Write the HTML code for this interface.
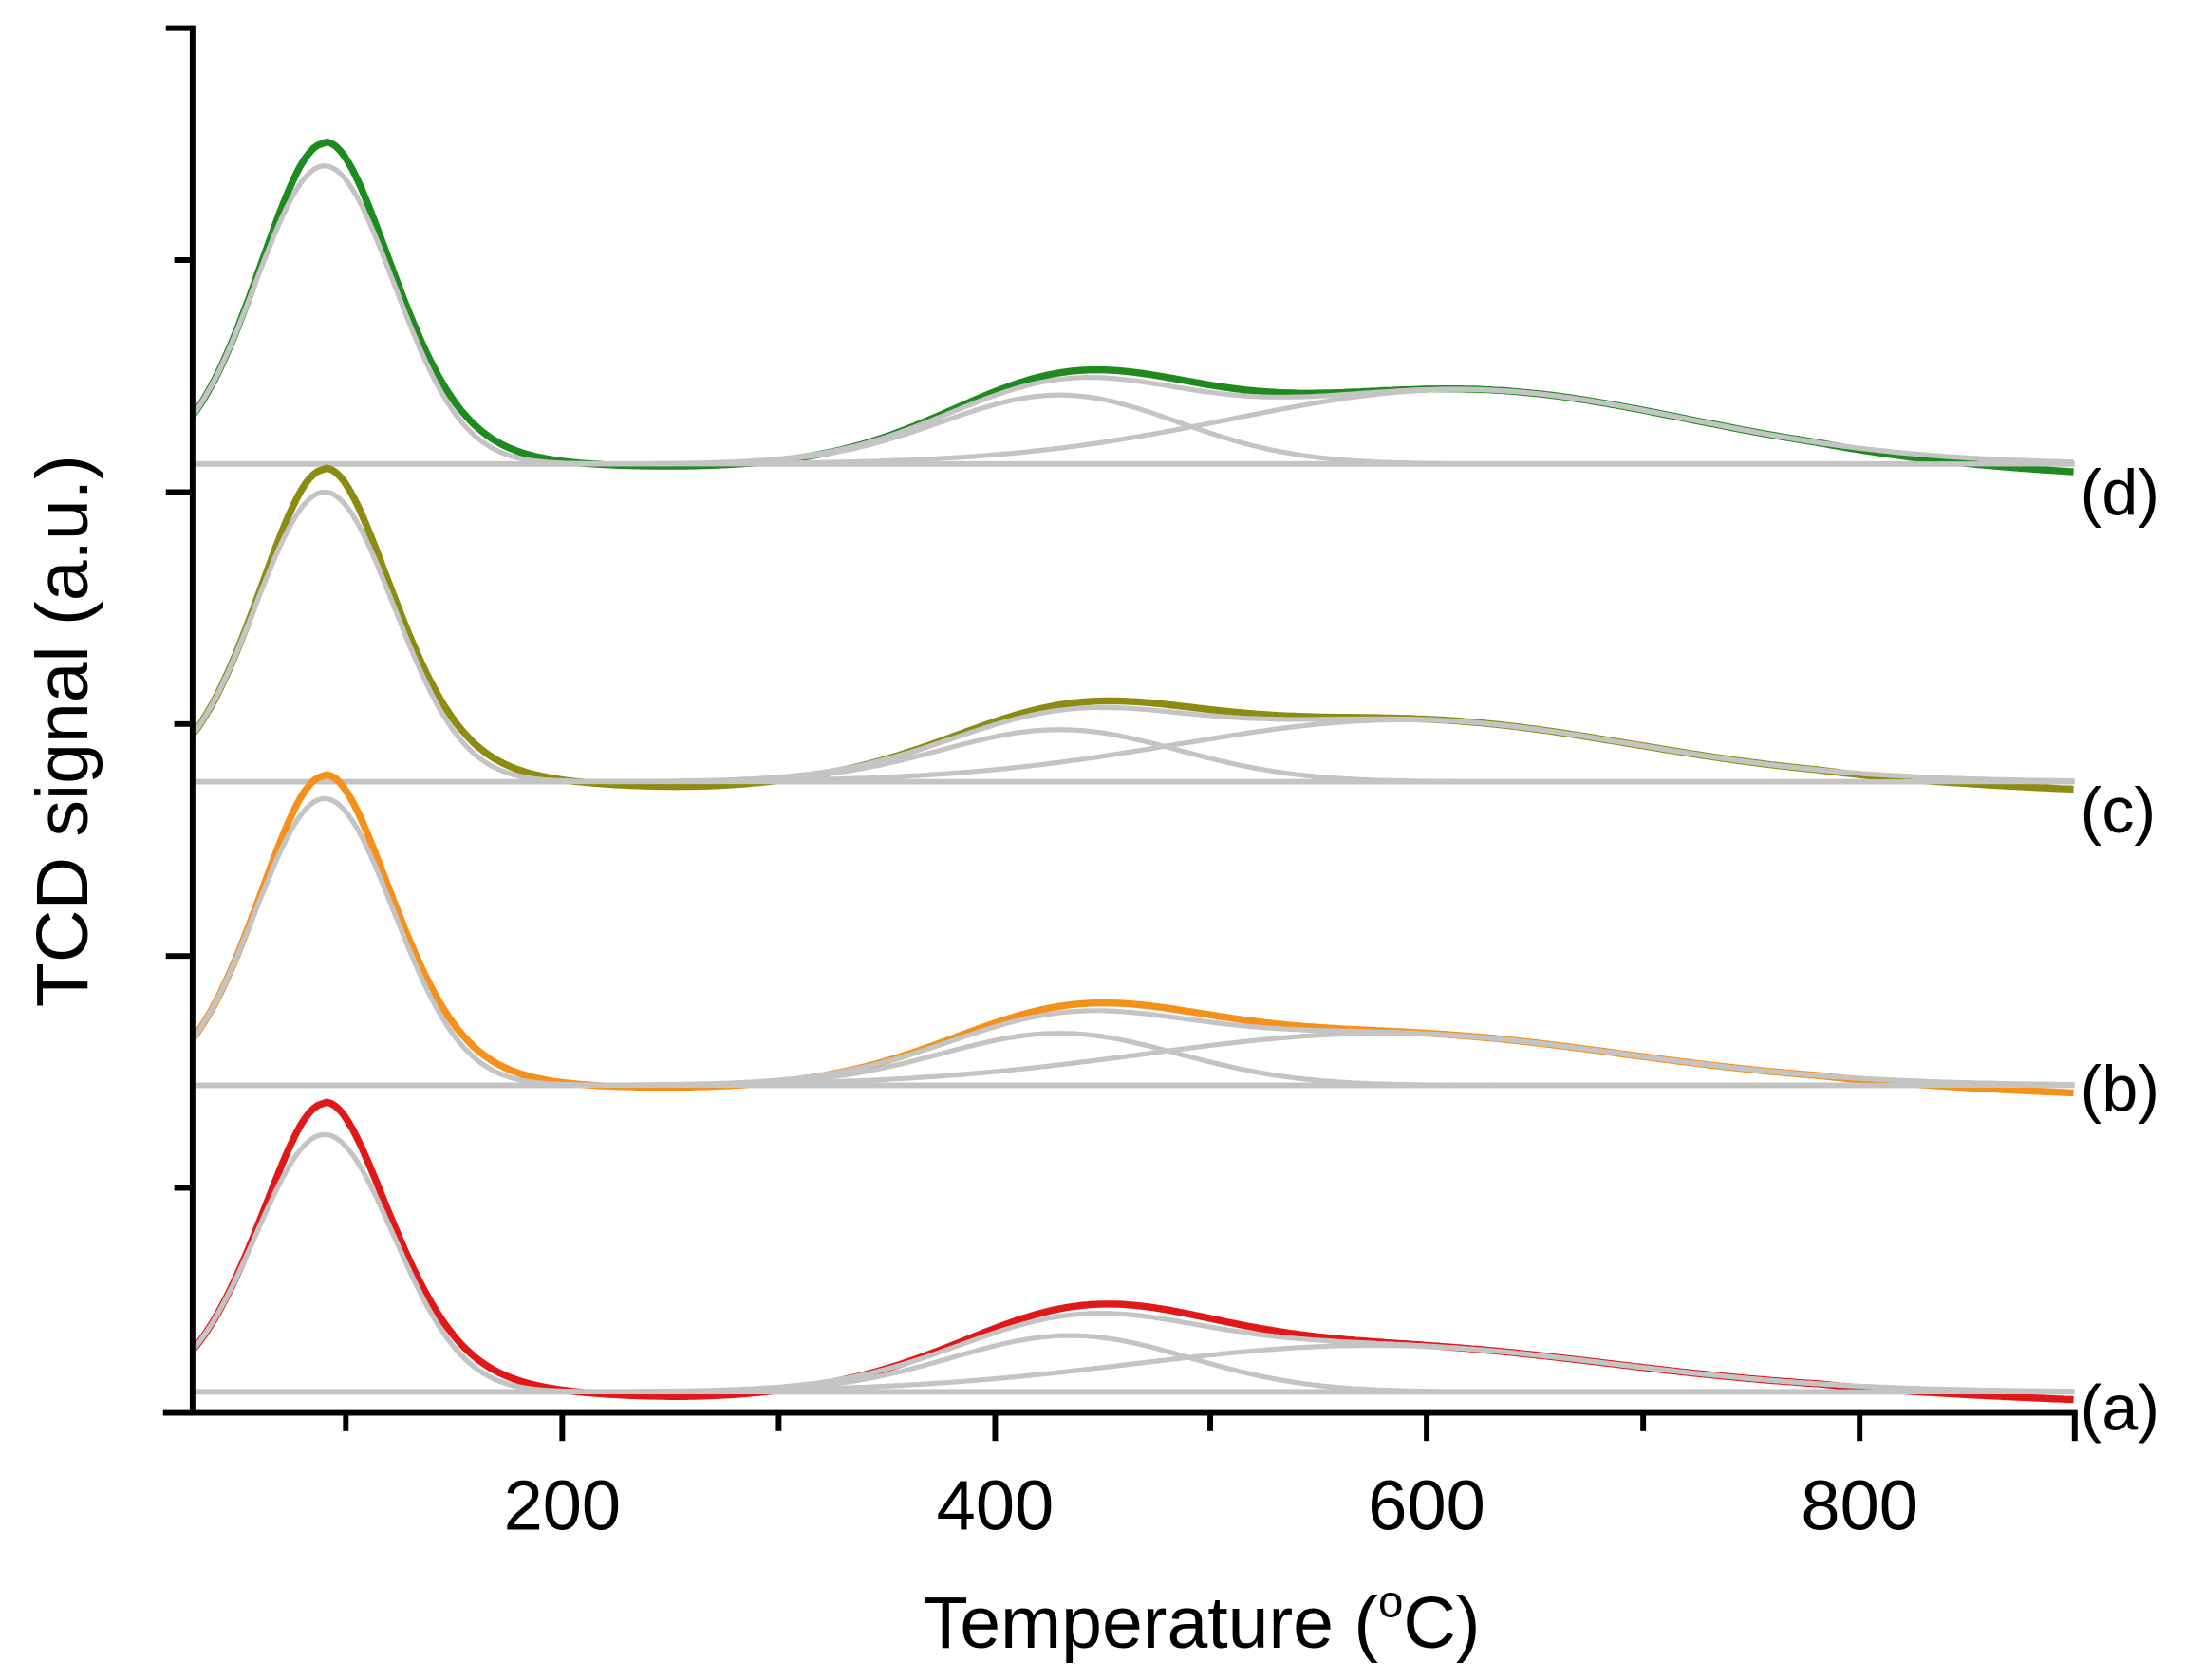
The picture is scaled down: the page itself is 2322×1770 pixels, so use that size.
<!DOCTYPE html>
<html><head><meta charset="utf-8"><style>
html,body{margin:0;padding:0;background:#fff;}
svg{display:block;}
text{font-family:"Liberation Sans",Arial,sans-serif;fill:#000;}
</style></head><body>
<svg id="s" width="2322" height="1770" viewBox="0 0 1568 1195" preserveAspectRatio="none" xmlns="http://www.w3.org/2000/svg">
<rect width="1568" height="1195" fill="#fff"/>
<g id="curves"></g>
<g stroke="#000" stroke-width="4" fill="none">
<line x1="137" y1="18" x2="137" y2="1007"/>
<line x1="116" y1="1005" x2="1478" y2="1005"/>
<line x1="118" y1="20" x2="137" y2="20"/>
<line x1="124" y1="185" x2="137" y2="185"/>
<line x1="118" y1="350" x2="137" y2="350"/>
<line x1="124" y1="515" x2="137" y2="515"/>
<line x1="118" y1="680" x2="137" y2="680"/>
<line x1="124" y1="845" x2="137" y2="845"/>
<line x1="400" y1="1005" x2="400" y2="1025"/>
<line x1="708" y1="1005" x2="708" y2="1025"/>
<line x1="1015" y1="1005" x2="1015" y2="1025"/>
<line x1="1323" y1="1005" x2="1323" y2="1025"/>
<line x1="246" y1="1005" x2="246" y2="1018"/>
<line x1="554" y1="1005" x2="554" y2="1018"/>
<line x1="861" y1="1005" x2="861" y2="1018"/>
<line x1="1169" y1="1005" x2="1169" y2="1018"/>
<line x1="1476" y1="1005" x2="1476" y2="1025"/>
</g>
<g font-size="50" text-anchor="middle">
<text x="400" y="1088">200</text>
<text x="708" y="1088">400</text>
<text x="1015" y="1088">600</text>
<text x="1323" y="1088">800</text>
</g>
<text x="855" y="1172" font-size="52" text-anchor="middle">Temperature (<tspan font-size="32" dy="-22">o</tspan><tspan dy="22">C)</tspan></text>
<text transform="translate(62,520) rotate(-90)" font-size="52" text-anchor="middle">TCD signal (a.u.)</text>
<g font-size="46">
<text x="1480" y="366">(d)</text>
<text x="1480" y="592">(c)</text>
<text x="1480" y="790">(b)</text>
<text x="1480" y="1017">(a)</text>
</g>
</svg>
<script>
function X(t){return 92.5+t*1.538;}
function g(t,c,s){return Math.exp(-(t-c)*(t-c)/(2*s*s));}
var S=[
 {b:330,col:"#1f8a1f",h1:212,hc:228,h2:49,c2:430,s2:55,h3:53,c3:615,s3:105,h4:6,c4:470,end:7,dip:2},
 {b:556,col:"#8c8c12",h1:206,hc:222,h2:37,c2:430,s2:55,h3:44,c3:590,s3:105,h4:5,c4:470,end:6,dip:4},
 {b:772,col:"#f5901a",h1:204,hc:220,h2:37,c2:430,s2:55,h3:37,c3:580,s3:110,h4:6,c4:470,end:6,dip:2},
 {b:990,col:"#e01818",h1:183,hc:205,h2:40,c2:435,s2:55,h3:33,c3:575,s3:110,h4:7,c4:470,end:6,dip:4}
];
var out="";
S.forEach(function(p){
 var gp=[[],[],[],[]],cp=[];
 for(var t=29;t<=900;t+=2){
  var x=X(t).toFixed(1);
  var a=p.h1*g(t,90,32),b=p.h2*g(t,p.c2,p.s2),c=p.h3*g(t,p.c3,p.s3);
  gp[0].push(x+","+(p.b-a).toFixed(1));
  gp[1].push(x+","+(p.b-b).toFixed(1));
  gp[2].push(x+","+(p.b-c).toFixed(1));
  gp[3].push(x+","+(p.b-a-b-c).toFixed(1));
  var tail=t>90?8*g(t,150,30):0;
  var col=a+(p.hc-p.h1)*g(t,90,16)+tail+b+c+p.h4*g(t,p.c4,55)-p.dip*g(t,260,40)-(t>780?p.end*(t-780)/120:0);
  cp.push(x+","+(p.b-col).toFixed(1));
 }
 out+='<line x1="137" y1="'+p.b+'" x2="1476" y2="'+p.b+'" stroke="#c4c4c4" stroke-width="4"/>';
 out+='<polyline points="'+cp.join(" ")+'" fill="none" stroke="'+p.col+'" stroke-width="5"/>';
 for(var i=0;i<4;i++) out+='<polyline points="'+gp[i].join(" ")+'" fill="none" stroke="#c4c4c4" stroke-width="3.5"/>';
});
document.getElementById("curves").innerHTML=out;
</script>
</body></html>
